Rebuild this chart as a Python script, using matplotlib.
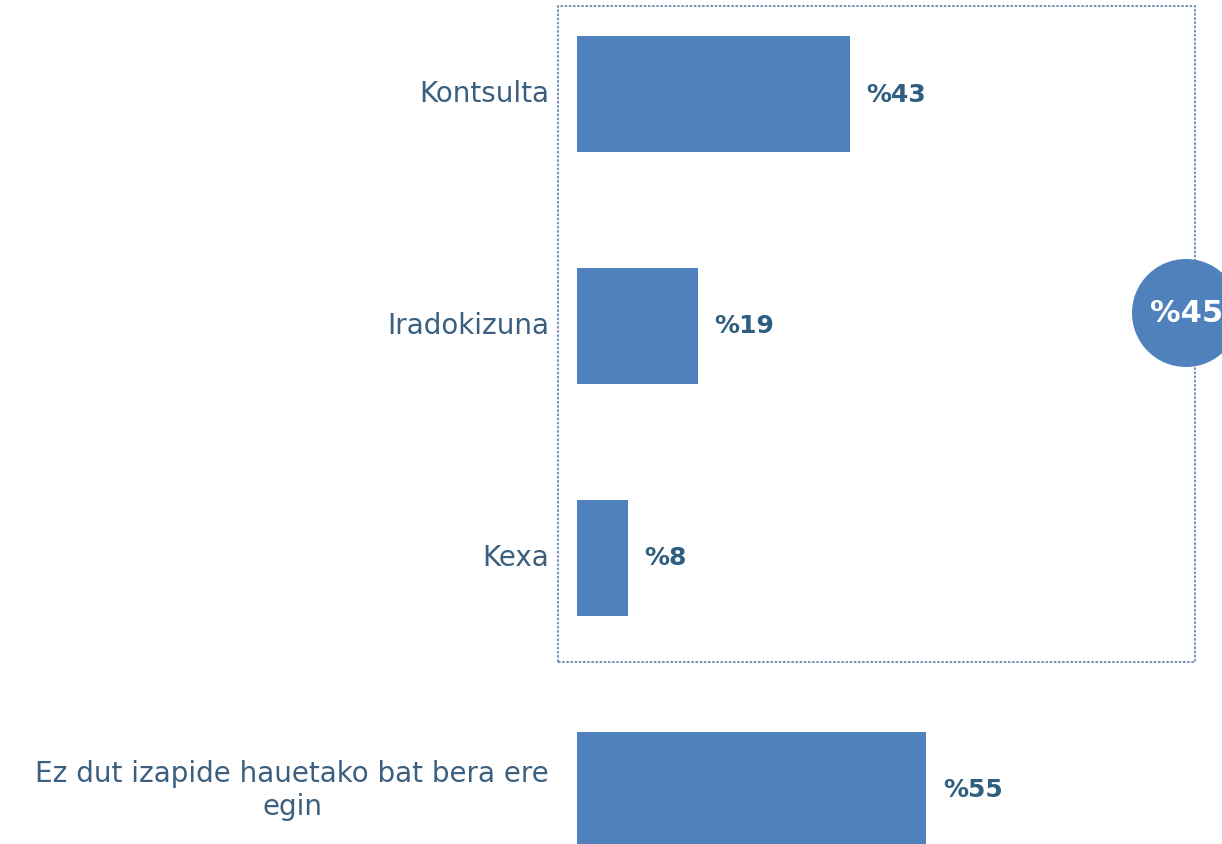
import matplotlib.pyplot as plt
from matplotlib.patches import Rectangle, Ellipse

plt.rcParams['font.family'] = ['DejaVu Sans']

# data
categories = ['Kontsulta', 'Iradokizuna', 'Kexa', 'Ez dut izapide hauetako bat bera ere\negin']
values = [43, 19, 8, 55]
total_label = '%45'

bar_color = '#4F81BD'
label_color = '#3A5F7F'
value_color = '#2E5F80'

W, H = 1222, 845
fig = plt.figure(figsize=(W / 100, H / 100), dpi=100)
ax = fig.add_axes([0, 0, 1, 1])

# scale: x=0 at pixel 577, ~6.35 px per percent; rows 232 px apart, first at 94.5 px
px_per_unit = 6.35
ax.set_xlim(-577 / px_per_unit, (W - 577) / px_per_unit)
row = 232.0
ax.set_ylim((H - 94.5) / row, -94.5 / row)

ypos = list(range(len(categories)))
ax.barh(ypos, values, height=0.5, color=bar_color, edgecolor='none')

for y, v, c in zip(ypos, values, categories):
    ax.annotate(f'%{v}', (v, y), xytext=(12, 0), textcoords='offset points',
                ha='left', va='center', fontsize=18, fontweight='bold', color=value_color)
    ax.annotate(c, (0, y), xytext=(-20, 0), textcoords='offset points',
                ha='right', va='center', ma='center', fontsize=20, color=label_color,
                linespacing=1.2)

ax.axis('off')

# dotted box around the first three categories
box = Rectangle((558 / W, 1 - 663 / H), (1195 - 558) / W, (663 - 7) / H,
                transform=fig.transFigure, fill=False, edgecolor='#5B7FAF',
                linestyle=(0, (1.5, 1)), linewidth=1.2, zorder=1)
fig.patches.append(box)

# circle with the total (cut by the right edge, as in the original)
circ = Ellipse((1186 / W, 1 - 314 / H), 108 / W, 108 / H, transform=fig.transFigure,
               facecolor=bar_color, edgecolor='none', zorder=3)
fig.patches.append(circ)
fig.text(1150 / W, 1 - 314 / H, total_label, ha='left', va='center',
         fontsize=22, fontweight='bold', color='white', zorder=4)

fig.savefig('out.png', dpi=100, facecolor='white')
